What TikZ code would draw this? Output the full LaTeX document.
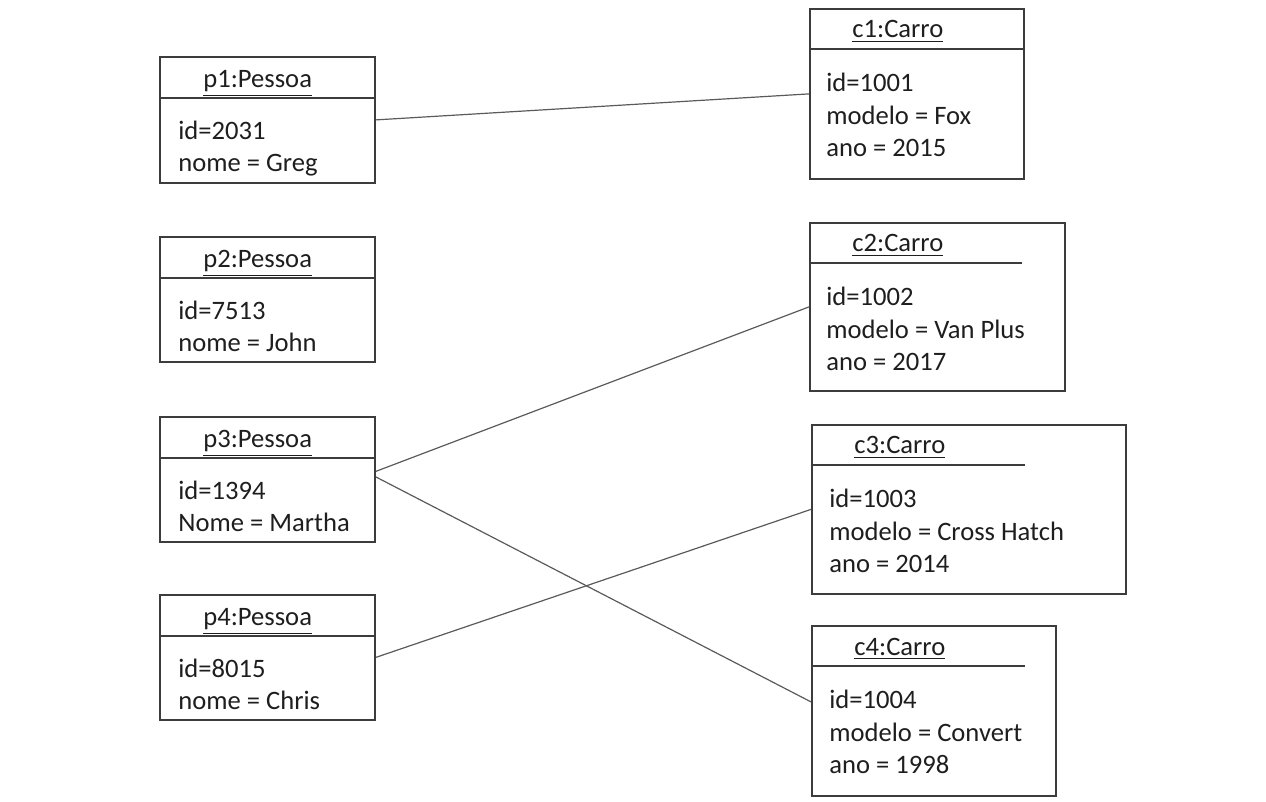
\documentclass[tikz,border=0pt]{standalone}
\usepackage{fontspec}
\setmainfont{Carlito}
\usepackage{tikz}
\usetikzlibrary{calc}
\definecolor{borda}{HTML}{3C3C3C}
\definecolor{texto}{HTML}{1E1E1E}
\definecolor{ligacao}{HTML}{5A5A5A}
\tikzset{%
  objeto/.style={draw=borda, line width=0.9pt, rectangle, inner sep=0, anchor=north west},
  titulo/.style={anchor=base west, inner sep=0, text=texto, font=\fontsize{13.3pt}{16.25pt}\selectfont},
  atributos/.style={anchor=base west, inner sep=0, align=left, text=texto, font=\fontsize{13.3pt}{16.25pt}\selectfont},
  divisao/.style={draw=borda, line width=0.7pt},
  ligacao/.style={draw=ligacao, line width=0.6pt}
}
\newcommand{\titulox}{22pt}
\newcommand{\tituloy}{-16pt}
\newcommand{\atribx}{9.5pt}
% base da ultima linha
\newcommand{\atribyp}{-58pt}
\newcommand{\atribyc}{-74.5pt}

\begin{document}
\begin{tikzpicture}[x=0.5pt, y=-0.5pt]

\useasboundingbox (0,0) rectangle (1266,802);

% pessoas
\node (p1) at (159,56) [objeto, minimum width=107.5pt, minimum height=63pt] {};
\node (p2) at (159,236) [objeto, minimum width=107.5pt, minimum height=62.5pt] {};
\node (p3) at (159,416) [objeto, minimum width=107.5pt, minimum height=62.5pt] {};
\node (p4) at (159,594) [objeto, minimum width=107.5pt, minimum height=62.5pt] {};

% carros
\node (c1) at (809,8) [objeto, minimum width=107pt, minimum height=85pt] {};
\node (c2) at (809,222) [objeto, minimum width=127.5pt, minimum height=84pt] {};
\node (c3) at (811,424) [objeto, minimum width=157pt, minimum height=84.5pt] {};
\node (c4) at (811,625) [objeto, minimum width=122pt, minimum height=85pt] {};

% divisoes
\draw[divisao] ([yshift=-21pt]p1.north west) -- ([yshift=-21pt]p1.north east);
\draw[divisao] ([yshift=-21pt]p2.north west) -- ([yshift=-21pt]p2.north east);
\draw[divisao] ([yshift=-21pt]p3.north west) -- ([yshift=-21pt]p3.north east);
\draw[divisao] ([yshift=-21pt]p4.north west) -- ([yshift=-21pt]p4.north east);
\draw[divisao] ([yshift=-20.5pt]c1.north west) -- ([yshift=-20.5pt]c1.north east);
\draw[divisao] ([yshift=-20.5pt]c2.north west) -- ++(213,0);
\draw[divisao] ([yshift=-20.5pt]c3.north west) -- ++(214,0);
\draw[divisao] ([yshift=-20.5pt]c4.north west) -- ++(214,0);

% titulos
\node (p1_titulo) at ([xshift=\titulox, yshift=\tituloy]p1.north west) [titulo] {\underline{p1:Pessoa}};
\node (p2_titulo) at ([xshift=\titulox, yshift=\tituloy]p2.north west) [titulo] {\underline{p2:Pessoa}};
\node (p3_titulo) at ([xshift=\titulox, yshift=\tituloy]p3.north west) [titulo] {\underline{p3:Pessoa}};
\node (p4_titulo) at ([xshift=\titulox, yshift=\tituloy]p4.north west) [titulo] {\underline{p4:Pessoa}};
\node (c1_titulo) at ([xshift=21.5pt, yshift=-15pt]c1.north west) [titulo] {\underline{c1:Carro}};
\node (c2_titulo) at ([xshift=21.5pt, yshift=-15pt]c2.north west) [titulo] {\underline{c2:Carro}};
\node (c3_titulo) at ([xshift=21.5pt, yshift=-15pt]c3.north west) [titulo] {\underline{c3:Carro}};
\node (c4_titulo) at ([xshift=21.5pt, yshift=-15pt]c4.north west) [titulo] {\underline{c4:Carro}};

% atributos
\node (p1_atrib) at ([xshift=\atribx, yshift=\atribyp]p1.north west) [atributos] {id=2031\\nome = Greg};
\node (p2_atrib) at ([xshift=\atribx, yshift=\atribyp]p2.north west) [atributos] {id=7513\\nome = John};
\node (p3_atrib) at ([xshift=\atribx, yshift=\atribyp]p3.north west) [atributos] {id=1394\\Nome = Martha};
\node (p4_atrib) at ([xshift=\atribx, yshift=\atribyp]p4.north west) [atributos] {id=8015\\nome = Chris};
\node (c1_atrib) at ([xshift=8.5pt, yshift=\atribyc]c1.north west) [atributos] {id=1001\\modelo = Fox\\ano = 2015};
\node (c2_atrib) at ([xshift=8.5pt, yshift=\atribyc]c2.north west) [atributos] {id=1002\\modelo = Van Plus\\ano = 2017};
\node (c3_atrib) at ([xshift=9pt, yshift=\atribyc]c3.north west) [atributos] {id=1003\\modelo = Cross Hatch\\ano = 2014};
\node (c4_atrib) at ([xshift=9pt, yshift=\atribyc]c4.north west) [atributos] {id=1004\\modelo = Convert\\ano = 1998};

% ligacoes
\draw[ligacao] (p1.east) -- (c1.west);
\draw[ligacao] ([yshift=4pt]p3.east) -- (c2.west);
\draw[ligacao] ([yshift=1.25pt]p3.east) -- ([yshift=4.5pt]c4.west);
\draw[ligacao] (p4.east) -- (c3.west);

\end{tikzpicture}
\end{document}
